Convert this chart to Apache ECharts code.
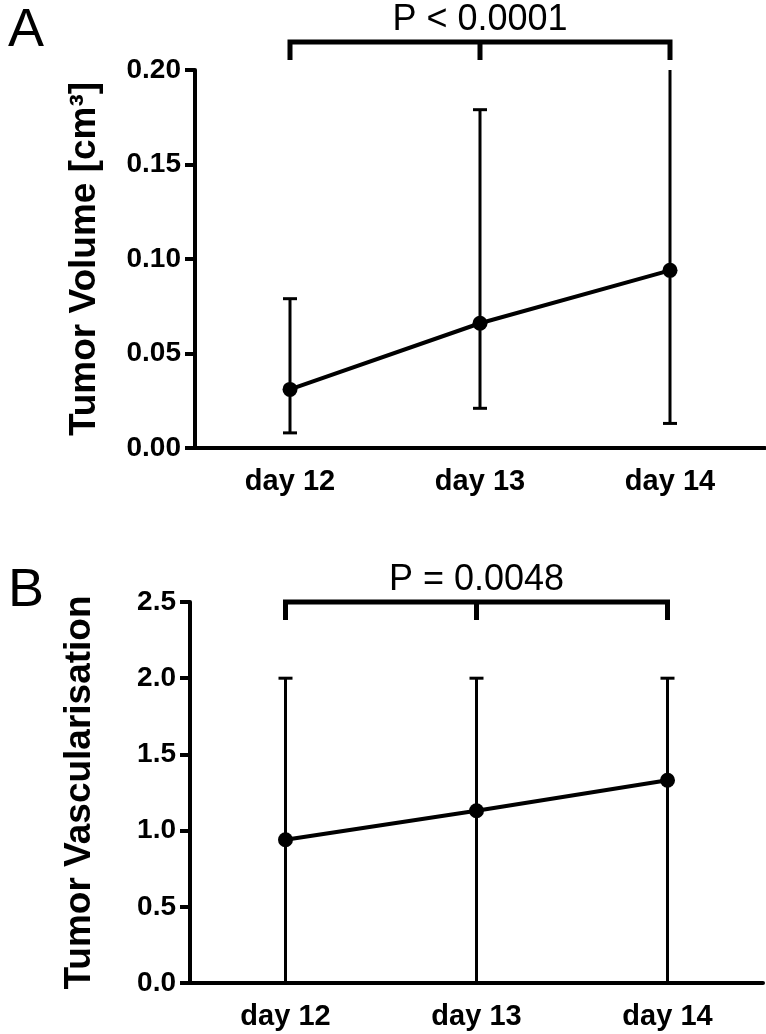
<!DOCTYPE html>
<html><head><meta charset="utf-8">
<script src="https://cdn.jsdelivr.net/npm/echarts@6/dist/echarts.min.js"></script>
<style>html,body{margin:0;padding:0;background:#fff}#c{width:766px;height:1034px}</style>
</head><body><div id="c"></div>
<script>
// ---- data ----
const categories = ['day 12', 'day 13', 'day 14'];
const volumeMean = [0.031, 0.066, 0.094];
const volumeLow  = [0.008, 0.021, 0.013];
const volumeHigh = [0.079, 0.179, 0.215];
const vascMean = [0.94, 1.13, 1.33];
const vascLow  = [0.0, 0.0, 0.0];
const vascHigh = [2.0, 2.0, 2.0];
const volumeTicks = ['0.00', '0.05', '0.10', '0.15', '0.20'];
const vascTicks = ['0.0', '0.5', '1.0', '1.5', '2.0', '2.5'];
const pLabelA = 'P < 0.0001';
const pLabelB = 'P = 0.0048';
const bracketLevelA = 0.2148;
const bracketLevelB = 2.5;

const FONT = '"Liberation Sans", Arial, sans-serif';

function errData(low, high) {
  return categories.map((c, i) => [i, low[i], high[i]]);
}
function renderErr(params, api) {
  const x = api.value(0), lo = api.value(1), hi = api.value(2);
  const a = api.coord([x, lo]), b = api.coord([x, hi]);
  const hw = 7;
  const st = { stroke: '#000', lineWidth: 3 };
  return { type: 'group', children: [
    { type: 'line', shape: { x1: a[0], y1: a[1], x2: b[0], y2: b[1] }, style: st },
    { type: 'line', shape: { x1: b[0] - hw, y1: b[1], x2: b[0] + hw, y2: b[1] }, style: st },
    { type: 'line', shape: { x1: a[0] - hw, y1: a[1], x2: a[0] + hw, y2: a[1] }, style: st }
  ]};
}
function makeBracket(label) {
  return function (params, api) {
    const lv = api.value(1);
    const p0 = api.coord([0, lv]), p1 = api.coord([1, lv]), p2 = api.coord([2, lv]);
    const drop = 18;
    const st = { stroke: '#000', lineWidth: 5, lineCap: 'butt' };
    return { type: 'group', children: [
      { type: 'polyline', shape: { points: [[p0[0], p0[1] + drop], [p0[0], p0[1]], [p2[0], p2[1]], [p2[0], p2[1] + drop]] }, style: Object.assign({ fill: 'none', lineJoin: 'miter' }, st) },
      { type: 'line', shape: { x1: p1[0], y1: p1[1], x2: p1[0], y2: p1[1] + drop }, style: st },
      { type: 'text', x: p1[0], y: p1[1] - 4, style: { text: label, fill: '#000', font: 'normal 36px ' + FONT, align: 'center', verticalAlign: 'bottom' } }
    ]};
  };
}

const axisLineStyle = { color: '#000', width: 4 };
function xAxis(gridIndex) {
  return {
    type: 'category', gridIndex, data: categories, boundaryGap: true,
    axisLine: { lineStyle: axisLineStyle },
    axisTick: { alignWithLabel: true, length: 8, lineStyle: { color: '#000', width: 4 } },
    axisLabel: { color: '#000', fontFamily: FONT, fontWeight: 'bold', fontSize: 29, margin: 19 },
    splitLine: { show: false }
  };
}
function yAxis(gridIndex, ticks, name) {
  const vals = ticks.map(Number);
  const step = vals[1] - vals[0];
  const dec = ticks[0].split('.')[1].length;
  return {
    type: 'value', gridIndex, min: vals[0], max: vals[vals.length - 1], interval: step,
    name, nameLocation: 'middle', nameRotate: 90, nameGap: 92,
    nameTextStyle: { color: '#000', fontFamily: FONT, fontWeight: 'bold', fontSize: 37 },
    axisLine: { show: true, lineStyle: axisLineStyle },
    axisTick: { show: true, length: 10, lineStyle: { color: '#000', width: 4 } },
    axisLabel: { color: '#000', fontFamily: FONT, fontWeight: 'bold', fontSize: 28, margin: 14,
      formatter: v => { const i = Math.round((v - vals[0]) / step); return ticks[i] !== undefined ? ticks[i] : v.toFixed(dec); } },
    splitLine: { show: false }
  };
}

const chart = echarts.init(document.getElementById('c'), null, { renderer: 'canvas' });
chart.setOption({
  animation: false,
  backgroundColor: '#fff',
  title: [
    { text: 'A', left: 3, top: -1, textStyle: { fontFamily: FONT, fontWeight: 'normal', fontSize: 54, color: '#000' } },
    { text: 'B', left: 3, top: 559, textStyle: { fontFamily: FONT, fontWeight: 'normal', fontSize: 54, color: '#000' } }
  ],
  grid: [
    { left: 195, top: 70, width: 570, height: 378 },
    { left: 190, top: 602, width: 573, height: 381 }
  ],
  xAxis: [xAxis(0), xAxis(1)],
  yAxis: [yAxis(0, volumeTicks, 'Tumor Volume [cm\u00B3]'), yAxis(1, vascTicks, 'Tumor Vascularisation')],
  series: [
    { type: 'custom', xAxisIndex: 0, yAxisIndex: 0, clip: true, renderItem: renderErr, data: errData(volumeLow, volumeHigh), z: 2 },
    { type: 'line', xAxisIndex: 0, yAxisIndex: 0, data: volumeMean, symbol: 'circle', symbolSize: 15,
      lineStyle: { color: '#000', width: 4 }, itemStyle: { color: '#000' }, z: 3 },
    { type: 'custom', xAxisIndex: 0, yAxisIndex: 0, clip: false, renderItem: makeBracket(pLabelA), data: [[1, bracketLevelA]], z: 4 },
    { type: 'custom', xAxisIndex: 1, yAxisIndex: 1, clip: true, renderItem: renderErr, data: errData(vascLow, vascHigh), z: 2 },
    { type: 'line', xAxisIndex: 1, yAxisIndex: 1, data: vascMean, symbol: 'circle', symbolSize: 15,
      lineStyle: { color: '#000', width: 4 }, itemStyle: { color: '#000' }, z: 3 },
    { type: 'custom', xAxisIndex: 1, yAxisIndex: 1, clip: false, renderItem: makeBracket(pLabelB), data: [[1, bracketLevelB]], z: 4 }
  ]
});
</script>
</body></html>
